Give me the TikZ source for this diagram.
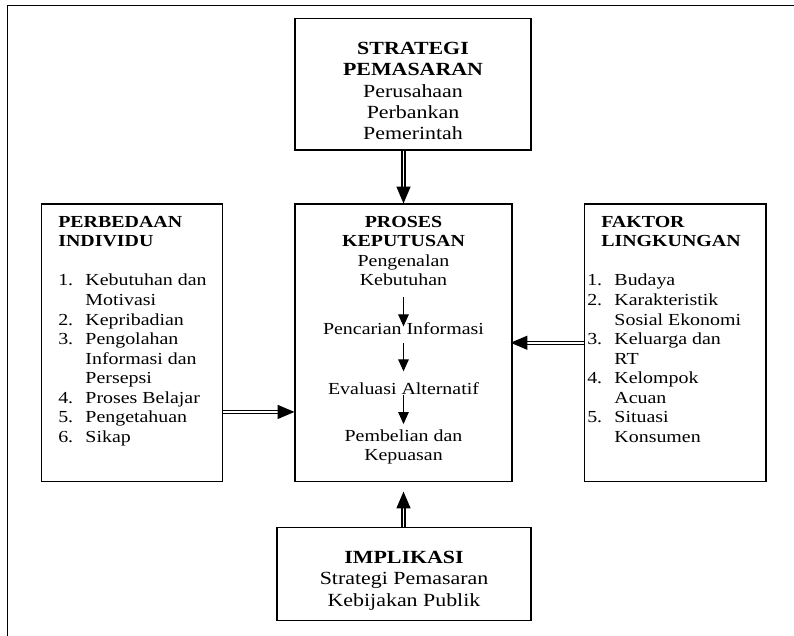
\documentclass[tikz,border=0pt]{standalone}
\usepackage{fontspec}
\setmainfont{Liberation Serif}[FakeStretch=1.18]
\usetikzlibrary{arrows.meta, positioning}

\newcommand{\butir}[2]{\makebox[0.68cm][l]{#1}#2}
\newcommand{\lanjut}[1]{\hspace*{0.68cm}#1}

\begin{document}
\begin{tikzpicture}[
    kotak/.style={draw, line width=0.8pt, inner sep=0pt},
    teks/.style={inner sep=0pt, font=\fontsize{12}{13.9}\selectfont},
    teksbesar/.style={inner sep=0pt, align=center, font=\fontsize{13.2}{15.2}\selectfont},
    panah/.style={line width=0.7pt, -{Triangle[length=8.5pt, width=7.5pt]}},
    dobel/.style={double, double distance=1.4pt, line width=0.8pt, -{Triangle[length=12pt, width=10pt]}}
]
    \useasboundingbox (0, 0) rectangle (19.85, 15.9);
    % Frame
    \draw[line width=1pt] (0.19, 15.7575) rectangle (21, -1);

    % Boxes
    \node[kotak, minimum width=5.9cm, minimum height=3.2875cm] (strategi) at (10.325, 13.79375) {};
    \node[kotak, minimum width=5.425cm, minimum height=6.9375cm] (proses) at (10.0875, 7.33125) {};
    \node[kotak, minimum width=4.53cm, minimum height=6.9375cm] (perbedaan) at (3.3025, 7.33125) {};
    \node[kotak, minimum width=4.5375cm, minimum height=6.9375cm] (faktor) at (16.88125, 7.33125) {};
    \node[kotak, minimum width=6.35cm, minimum height=2.325cm] (implikasi) at (10.1, 1.55) {};

    % Strategi Pemasaran
    \node[teksbesar, anchor=north] (strategiteks) at (10.325, 14.8525)
        {\textbf{STRATEGI}\\ \textbf{PEMASARAN}\\ Perusahaan\\ Perbankan\\ Pemerintah};

    % Proses Keputusan
    \node[teks, align=center, anchor=north] (judul) at (10.0875, 10.5025)
        {\textbf{PROSES}\\ \textbf{KEPUTUSAN}\\ Pengenalan\\ Kebutuhan};
    \node[teks, anchor=base] (pencarian) at (10.0875, 7.535) {Pencarian Informasi};
    \node[teks, anchor=base] (evaluasi) at (10.0875, 6.035) {Evaluasi Alternatif};
    \node[teks, align=center, anchor=north] (pembelian) at (10.0875, 5.1725)
        {Pembelian dan\\ Kepuasan};
    \draw[panah, shorten <=7.4pt, shorten >=-2.8pt] (judul) -- (pencarian);
    \draw[panah, shorten <=6pt, shorten >=7.9pt] (pencarian) -- (evaluasi);
    \draw[panah, shorten >=3.6pt] (evaluasi) -- (pembelian);

    % Perbedaan Individu
    \node[teks, align=left, anchor=north west] (individu) at (1.45, 10.5025)
        {\textbf{PERBEDAAN}\\ \textbf{INDIVIDU}\\[13.9pt]
         \butir{1.}{Kebutuhan dan}\\ \lanjut{Motivasi}\\
         \butir{2.}{Kepribadian}\\
         \butir{3.}{Pengolahan}\\ \lanjut{Informasi dan}\\ \lanjut{Persepsi}\\
         \butir{4.}{Proses Belajar}\\
         \butir{5.}{Pengetahuan}\\
         \butir{6.}{Sikap}};

    % Faktor Lingkungan
    \node[teks, align=left, anchor=north west] (lingkungan) at (14.675, 10.5025)
        {\hspace*{0.35cm}\textbf{FAKTOR}\\ \hspace*{0.35cm}\textbf{LINGKUNGAN}\\[13.9pt]
         \butir{1.}{Budaya}\\
         \butir{2.}{Karakteristik}\\ \lanjut{Sosial Ekonomi}\\
         \butir{3.}{Keluarga dan}\\ \lanjut{RT}\\
         \butir{4.}{Kelompok}\\ \lanjut{Acuan}\\
         \butir{5.}{Situasi}\\ \lanjut{Konsumen}};

    % Implikasi
    \node[teksbesar, anchor=north] (implikasiteks) at (10.1, 2.1275)
        {\textbf{IMPLIKASI}\\ Strategi Pemasaran\\ Kebijakan Publik};

    % Arrows
    \draw[dobel] (strategi.south -| proses.north) -- (proses.north);
    \draw[dobel, shorten >=6.75pt] (implikasi.north -| proses.south) -- (proses.south);
    \draw[dobel, shorten >=-1.4pt] (faktor) -- (proses);
    \draw[dobel] ([yshift=-1.73cm]perbedaan.east) -- ([yshift=-1.73cm]proses.west);
\end{tikzpicture}
\end{document}
